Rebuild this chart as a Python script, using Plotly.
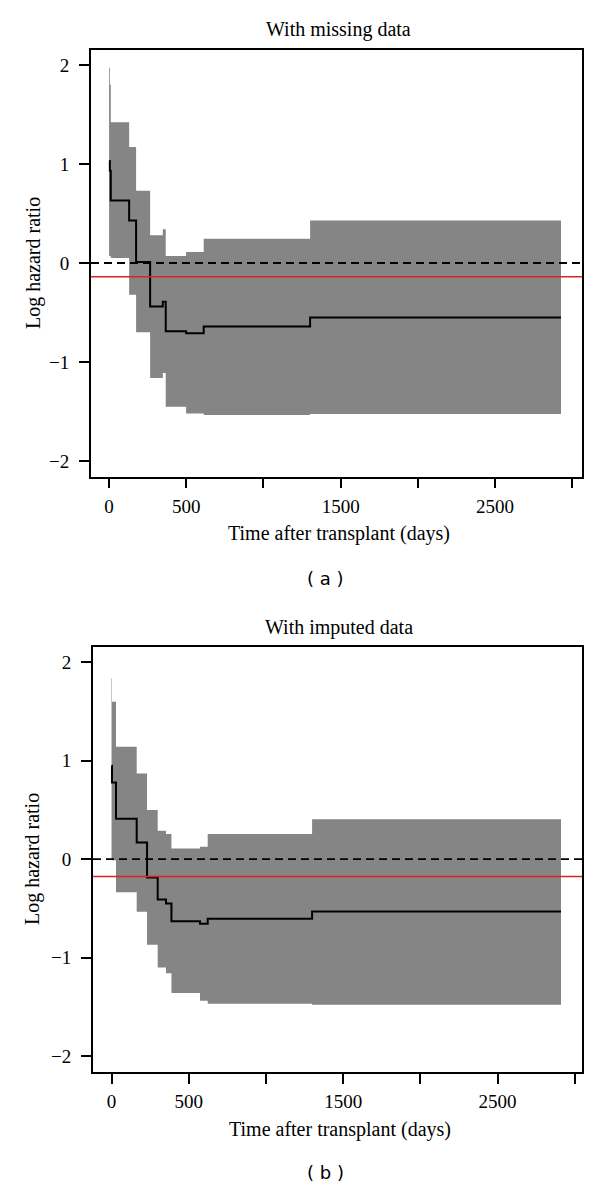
import plotly.graph_objects as go

# panel (a): with missing data
days_a = [0, 5, 11, 130, 175, 266, 348, 367, 499, 613, 1302, 2927]
upper_a = [1.97, 1.80, 1.42, 1.17, 0.73, 0.28, 0.34, 0.07, 0.11, 0.245, 0.43]
lower_a = [0.07, 0.07, 0.05, -0.32, -0.70, -1.16, -1.11, -1.45, -1.52, -1.535, -1.525]
loghr_a = [1.03, 0.93, 0.63, 0.43, 0.01, -0.44, -0.39, -0.69, -0.71, -0.64, -0.55]
ref_a = -0.14

# panel (b): with imputed data
days_b = [0, 3, 29, 163, 230, 299, 353, 388, 573, 623, 1299, 2911]
upper_b = [1.84, 1.60, 1.144, 0.87, 0.50, 0.29, 0.255, 0.11, 0.127, 0.255, 0.407]
lower_b = [-0.01, -0.01, -0.337, -0.535, -0.87, -1.10, -1.16, -1.36, -1.44, -1.47, -1.48]
loghr_b = [0.95, 0.78, 0.41, 0.17, -0.186, -0.41, -0.45, -0.63, -0.655, -0.606, -0.532]
ref_b = -0.176

x_ticks = [0, 500, 1000, 1500, 2000, 2500, 3000]
x_labels = ["0", "500", "", "1500", "", "2500", ""]
y_ticks = [-2, -1, 0, 1, 2]

# the page body has an 8px margin, so the figure is drawn 8px in from the top left corner
OFF = 8
W, H = 600 - OFF, 1191 - OFF
SERIF = "Liberation Serif, Times New Roman, serif"
SANS = "DejaVu Sans, Verdana, sans-serif"
GREY = "#858585"


def px_y(p):
    return 1 - (p - OFF) / H


def px_x(p):
    return (p - OFF) / W


def steps(v):
    return list(v) + [v[-1]]


fig = go.Figure()


def add_panel(days, upper, lower, est, ref, xa, ya):
    fig.add_trace(go.Scatter(x=days, y=steps(lower), mode="lines", line=dict(width=0, shape="hv"),
                             xaxis=xa, yaxis=ya, showlegend=False, hoverinfo="skip"))
    fig.add_trace(go.Scatter(x=days, y=steps(upper), mode="lines", line=dict(width=0, shape="hv"),
                             fill="tonexty", fillcolor=GREY, xaxis=xa, yaxis=ya, showlegend=False))
    fig.add_shape(type="line", xref=xa + " domain", yref=ya, x0=0, x1=1, y0=0, y1=0,
                  line=dict(color="black", width=1.8, dash="8px,5px"))
    fig.add_shape(type="line", xref=xa + " domain", yref=ya, x0=0, x1=1, y0=ref, y1=ref,
                  line=dict(color="#dd2222", width=1.5))
    fig.add_trace(go.Scatter(x=days, y=steps(est), mode="lines", line=dict(color="black", width=2, shape="hv"),
                             xaxis=xa, yaxis=ya, showlegend=False))


add_panel(days_a, upper_a, lower_a, loghr_a, ref_a, "x", "y")
add_panel(days_b, upper_b, lower_b, loghr_b, ref_b, "x2", "y2")

axis_common = dict(showgrid=False, zeroline=False, showline=True, mirror=True, linecolor="black",
                   linewidth=1.8, ticks="outside", ticklen=10, tickwidth=1.5, tickcolor="black",
                   tickfont=dict(family=SERIF, size=19, color="black"))

fig.update_layout(
    width=W, height=H, margin=dict(l=0, r=0, t=0, b=0),
    plot_bgcolor="white", paper_bgcolor="white",
    xaxis=dict(domain=[px_x(91), px_x(582)], range=[-117, 3063], anchor="y",
               tickvals=x_ticks, ticktext=x_labels, ticklabelstandoff=2, **axis_common),
    yaxis=dict(domain=[px_y(476.5), px_y(49.5)], range=[-2.155, 2.155], anchor="x",
               tickvals=y_ticks, ticklabelstandoff=6, **axis_common),
    xaxis2=dict(domain=[px_x(93), px_x(582)], range=[-120, 3047], anchor="y2",
                tickvals=x_ticks, ticktext=x_labels, ticklabelstandoff=2, **axis_common),
    yaxis2=dict(domain=[px_y(1071.7), px_y(646.7)], range=[-2.16, 2.16], anchor="x2",
                tickvals=y_ticks, ticklabelstandoff=6, **axis_common),
)

notes = [
    ("With missing data", 338, 30, 0, SERIF, 20),
    ("Time after transplant (days)", 339, 534, 0, SERIF, 20),
    ("Log hazard ratio", 33, 263, -90, SERIF, 20),
    ("( a )", 325, 578, 0, SANS, 18),
    ("With imputed data", 339, 627, 0, SERIF, 20),
    ("Time after transplant (days)", 340, 1129, 0, SERIF, 20),
    ("Log hazard ratio", 33, 859, -90, SERIF, 20),
    ("( b )", 325, 1172, 0, SANS, 18),
]
for text, x, y, ang, fam, size in notes:
    fig.add_annotation(text=text, x=px_x(x), y=px_y(y), xref="paper", yref="paper", showarrow=False,
                       textangle=ang, xanchor="center", yanchor="middle",
                       font=dict(family=fam, size=size, color="black"))

fig.write_html("out.html")
